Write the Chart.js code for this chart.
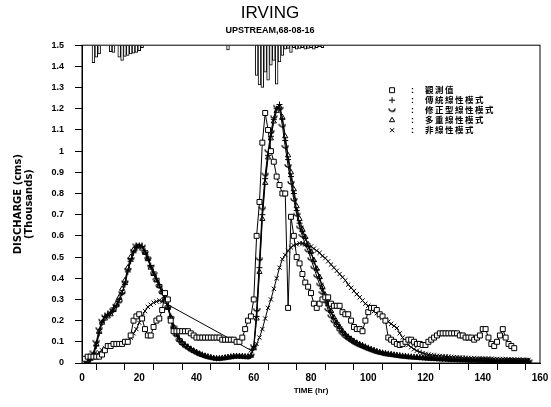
<!DOCTYPE html>
<html>
<head>
<meta charset="utf-8">
<script src="https://cdn.jsdelivr.net/npm/chart.js@4.4.0/dist/chart.umd.min.js"></script>
<style>
  html, body { margin: 0; padding: 0; background: #fff; }
  canvas { display: block; }
</style>
</head>
<body>
<canvas id="hydrograph" width="551" height="407"></canvas>
<script>
// time grid (hr), one value per hour
const hours = Array.from({ length: 157 }, (_, i) => i);

const seriesNames = ["觀測值", "傳統線性模式", "修正型線性模式", "多重線性模式", "非線性模式"];

// discharge, thousands cms
const observed = [
  0.00, 0.02, 0.03, 0.03, 0.03, 0.03, 0.03, 0.04, 0.06, 0.08,
  0.08, 0.09, 0.09, 0.09, 0.09, 0.10, 0.10, 0.13, 0.20, 0.22,
  0.23, 0.21, 0.16, 0.13, 0.13, 0.17, 0.20, 0.21, 0.25, 0.33,
  0.30, 0.20, 0.15, 0.15, 0.15, 0.15, 0.15, 0.15, 0.14, 0.13,
  0.12, 0.12, 0.12, 0.12, 0.12, 0.12, 0.12, 0.12, 0.12, 0.11,
  0.11, 0.11, 0.11, 0.11, 0.10, 0.10, 0.12, 0.16, 0.20, 0.22,
  0.30, 0.60, 0.76, 1.04, 1.18, 1.10, 1.00, 0.95, 0.88, 0.84,
  0.80, 0.80, 0.26, 0.69, 0.60, 0.50, 0.47, 0.42, 0.38, 0.36,
  0.33, 0.28, 0.26, 0.28, 0.30, 0.31, 0.31, 0.28, 0.27, 0.27,
  0.27, 0.24, 0.23, 0.23, 0.20, 0.17, 0.16, 0.16, 0.15, 0.20,
  0.24, 0.26, 0.26, 0.25, 0.23, 0.22, 0.20, 0.12, 0.11, 0.10,
  0.09, 0.085, 0.09, 0.10, 0.11, 0.11, 0.10, 0.09, 0.09, 0.085,
  0.085, 0.10, 0.11, 0.12, 0.13, 0.14, 0.14, 0.14, 0.14, 0.14,
  0.14, 0.14, 0.13, 0.13, 0.12, 0.12, 0.12, 0.11, 0.12, 0.13,
  0.16, 0.16, 0.12, 0.09, 0.08, 0.10, 0.13, 0.16, 0.12, 0.09,
  0.08, 0.07, null, null, null, null, null
];

const linearModel = [
  0.00, 0.00, 0.01, 0.02, 0.04, 0.08, 0.14, 0.19, 0.22, 0.23,
  0.24, 0.26, 0.27, 0.30, 0.33, 0.37, 0.43, 0.48, 0.52, 0.545,
  0.555, 0.55, 0.53, 0.50, 0.46, 0.43, 0.40, 0.37, 0.34, 0.31,
  0.27, 0.22, 0.175, 0.14, 0.115, 0.10, 0.088, 0.078, 0.068, 0.06,
  0.052, 0.045, 0.04, 0.035, 0.031, 0.027, 0.024, 0.022, 0.022, 0.024,
  0.026, 0.028, 0.03, 0.032, 0.033, 0.033, 0.032, 0.031, 0.03, 0.036,
  0.07, 0.22, 0.45, 0.70, 0.87, 0.98, 1.07, 1.15, 1.20, 1.22,
  1.15, 1.05, 0.96, 0.88, 0.80, 0.72, 0.66, 0.62, 0.59, 0.55,
  0.52, 0.48, 0.44, 0.40, 0.35, 0.31, 0.27, 0.24, 0.21, 0.19,
  0.17, 0.15, 0.135, 0.125, 0.115, 0.105, 0.097, 0.09, 0.085, 0.078,
  0.072, 0.066, 0.061, 0.056, 0.052, 0.049, 0.046, 0.044, 0.042, 0.04,
  0.038, 0.036, 0.034, 0.033, 0.031, 0.03, 0.029, 0.028, 0.027, 0.026,
  0.025, 0.024, 0.023, 0.022, 0.021, 0.02, 0.019, 0.019, 0.018, 0.017,
  0.017, 0.016, 0.016, 0.015, 0.015, 0.014, 0.014, 0.013, 0.013, 0.013,
  0.012, 0.012, 0.012, 0.011, 0.011, 0.011, 0.01, 0.01, 0.01, 0.01,
  0.01, 0.01, 0.009, 0.009, 0.009, 0.009, 0.009
];

const modifiedModel = [
  0.00, 0.00, 0.01, 0.03, 0.05, 0.10, 0.16, 0.20, 0.22, 0.23,
  0.24, 0.25, 0.27, 0.29, 0.33, 0.38, 0.44, 0.49, 0.53, 0.555,
  0.56, 0.55, 0.52, 0.49, 0.455, 0.42, 0.39, 0.36, 0.33, 0.30,
  0.26, 0.21, 0.165, 0.13, 0.105, 0.09, 0.079, 0.07, 0.061, 0.054,
  0.047, 0.041, 0.036, 0.031, 0.027, 0.024, 0.021, 0.019, 0.019, 0.021,
  0.023, 0.025, 0.027, 0.029, 0.03, 0.03, 0.029, 0.028, 0.027, 0.036,
  0.08, 0.25, 0.49, 0.73, 0.89, 1.00, 1.09, 1.16, 1.21, 1.20,
  1.12, 1.02, 0.93, 0.85, 0.77, 0.70, 0.64, 0.60, 0.56, 0.53,
  0.49, 0.45, 0.41, 0.37, 0.33, 0.29, 0.25, 0.22, 0.195, 0.175,
  0.155, 0.138, 0.124, 0.113, 0.104, 0.095, 0.088, 0.082, 0.076, 0.07,
  0.065, 0.06, 0.055, 0.051, 0.047, 0.044, 0.041, 0.039, 0.037, 0.035,
  0.033, 0.031, 0.03, 0.028, 0.027, 0.026, 0.025, 0.024, 0.023, 0.022,
  0.021, 0.02, 0.019, 0.019, 0.018, 0.017, 0.017, 0.016, 0.015, 0.015,
  0.014, 0.014, 0.013, 0.013, 0.013, 0.012, 0.012, 0.012, 0.011, 0.011,
  0.011, 0.01, 0.01, 0.01, 0.01, 0.009, 0.009, 0.009, 0.009, 0.009,
  0.008, 0.008, 0.008, 0.008, 0.008, 0.008, 0.008
];

const multiModel = [
  0.00, 0.00, 0.01, 0.02, 0.04, 0.09, 0.15, 0.19, 0.21, 0.22,
  0.23, 0.25, 0.28, 0.31, 0.35, 0.39, 0.45, 0.50, 0.535, 0.55,
  0.55, 0.54, 0.52, 0.49, 0.45, 0.42, 0.39, 0.365, 0.335, 0.30,
  0.26, 0.215, 0.17, 0.135, 0.11, 0.095, 0.083, 0.074, 0.065, 0.057,
  0.05, 0.043, 0.038, 0.033, 0.029, 0.026, 0.023, 0.021, 0.021, 0.023,
  0.025, 0.027, 0.029, 0.031, 0.032, 0.032, 0.031, 0.03, 0.029, 0.034,
  0.07, 0.21, 0.43, 0.68, 0.85, 0.97, 1.06, 1.14, 1.19, 1.21,
  1.16, 1.07, 0.98, 0.90, 0.82, 0.74, 0.68, 0.63, 0.595, 0.56,
  0.525, 0.485, 0.445, 0.405, 0.36, 0.32, 0.28, 0.245, 0.215, 0.19,
  0.17, 0.15, 0.135, 0.122, 0.112, 0.102, 0.094, 0.087, 0.081, 0.075,
  0.069, 0.064, 0.059, 0.054, 0.05, 0.047, 0.044, 0.042, 0.04, 0.038,
  0.036, 0.034, 0.032, 0.031, 0.029, 0.028, 0.027, 0.026, 0.025, 0.024,
  0.023, 0.022, 0.021, 0.02, 0.02, 0.019, 0.018, 0.018, 0.017, 0.016,
  0.016, 0.015, 0.015, 0.014, 0.014, 0.013, 0.013, 0.013, 0.012, 0.012,
  0.012, 0.011, 0.011, 0.011, 0.01, 0.01, 0.01, 0.01, 0.01, 0.009,
  0.009, 0.009, 0.009, 0.009, 0.009, 0.009, 0.009
];

const nonlinearModel = [
  0.00, 0.01, 0.02, 0.03, 0.03, 0.04, 0.05, 0.06, 0.07, 0.08,
  0.08, 0.085, 0.09, 0.09, 0.09, 0.095, 0.10, 0.12, 0.14, 0.16,
  0.19, 0.22, 0.245, 0.265, 0.275, 0.285, 0.29, 0.295, 0.29, null,
  null, null, null, null, null, null, null, null, null, null,
  null, null, null, null, null, null, null, null, null, null,
  null, null, null, null, null, null, null, null, null, 0.06,
  0.07, 0.09, 0.12, 0.16, 0.21, 0.26, 0.30, 0.35, 0.40, 0.45,
  0.49, 0.51, 0.53, 0.545, 0.555, 0.56, 0.565, 0.565, 0.56, 0.555,
  0.55, 0.54, 0.53, 0.52, 0.505, 0.495, 0.48, 0.465, 0.45, 0.435,
  0.42, 0.405, 0.39, 0.37, 0.355, 0.34, 0.325, 0.31, 0.295, 0.28,
  0.27, 0.255, 0.245, 0.235, 0.225, 0.215, 0.205, 0.195, 0.185, 0.175,
  0.165, 0.14, 0.12, 0.10, 0.085, 0.075, 0.065, 0.058, 0.052, 0.047,
  0.043, 0.04, 0.038, 0.036, 0.034, 0.033, 0.032, 0.031, 0.03, 0.029,
  0.028, 0.027, 0.026, 0.025, 0.025, 0.024, 0.023, 0.023, 0.022, 0.022,
  0.021, 0.021, 0.02, 0.02, 0.019, 0.019, 0.018, 0.018, 0.018, 0.017,
  0.017, 0.017, 0.016, 0.016, 0.016, 0.015, 0.015
];

// hyetograph hanging from the top frame
const rainHours = [4, 5, 6, 10, 11, 13, 14, 15, 16, 17, 18, 19, 20, 21, 51,
  61, 62, 63, 64, 65, 66, 67, 68, 69, 70, 71, 72, 73, 74, 75, 76, 77, 78, 79, 80, 81, 82, 83, 84];
const rainDepth = [2.2, 1.5, 1.1, 0.8, 0.9, 1.5, 1.9, 1.4, 1.3, 1.1, 1.0, 0.9, 0.7, 0.3, 0.6,
  3.8, 5.0, 5.3, 3.4, 4.4, 2.5, 1.9, 4.9, 2.1, 1.3, 0.5, 0.4, 0.9, 0.3, 0.5, 0.4, 0.3, 0.5, 0.4, 0.3, 0.5, 0.3, 0.2, 0.3];

// little "cup" marker for the modified linear model
function cupMarker() {
  const c = document.createElement("canvas");
  c.width = 8;
  c.height = 6;
  const g = c.getContext("2d");
  g.strokeStyle = "#000";
  g.lineWidth = 1.3;
  g.beginPath();
  g.arc(4, 1.2, 3, 0, Math.PI);
  g.stroke();
  return c;
}

function lineSet(label, values, pointStyle, radius) {
  return {
    type: "line",
    label: label,
    data: hours.map((h, i) => ({ x: h, y: values[i] })),
    borderColor: "#000",
    borderWidth: 1,
    pointStyle: pointStyle,
    pointRadius: radius,
    pointBorderColor: "#000",
    pointBackgroundColor: "#fff",
    pointBorderWidth: 1,
    tension: 0,
    spanGaps: true,
  };
}

const framePlugin = {
  id: "frame",
  afterDatasetsDraw(chart) {
    const { ctx, chartArea: a } = chart;
    ctx.save();
    ctx.strokeStyle = "#000";
    ctx.lineWidth = 1;
    ctx.strokeRect(a.left, a.top, a.right - a.left, a.bottom - a.top);
    ctx.restore();
  },
};

// legend sits inside the plot, upper right
const legendPlugin = {
  id: "innerLegend",
  afterDraw(chart) {
    const { ctx, chartArea: a } = chart;
    const x0 = a.left + (a.right - a.left) * 0.677;
    let y = a.top + 45;
    ctx.save();
    ctx.textBaseline = "middle";
    chart.data.datasets.forEach((ds) => {
      if (ds.type !== "line") return;
      ctx.strokeStyle = "#000";
      ctx.fillStyle = "#fff";
      ctx.lineWidth = 1;
      Chart.helpers.drawPoint(ctx, { pointStyle: ds.pointStyle, radius: ds.pointRadius, rotation: 0, borderWidth: 1 }, x0, y);
      ctx.fillStyle = "#000";
      ctx.font = "bold 9px 'Liberation Sans'";
      ctx.fillText(":", x0 + 19, y);
      ctx.font = "bold 8.5px 'Noto Sans CJK TC'";
      ctx.letterSpacing = "1.5px";
      ctx.fillText(ds.label, x0 + 33, y);
      ctx.letterSpacing = "0px";
      y += 10;
    });
    ctx.restore();
  },
};

Chart.defaults.font.family = "'Liberation Sans', Arial, sans-serif";
Chart.defaults.color = "#000";

new Chart(document.getElementById("hydrograph"), {
  type: "line",
  data: {
    datasets: [
      {
        type: "bar",
        label: "雨量",
        data: rainHours.map((h, i) => ({ x: h, y: rainDepth[i] })),
        yAxisID: "yRain",
        backgroundColor: "#fff",
        borderColor: "#000",
        borderWidth: 1,
        barThickness: 2.8,
      },
      lineSet(seriesNames[0], observed, "rect", 3.5),
      lineSet(seriesNames[1], linearModel, "cross", 3),
      lineSet(seriesNames[2], modifiedModel, cupMarker(), 3),
      lineSet(seriesNames[3], multiModel, "triangle", 3),
      lineSet(seriesNames[4], nonlinearModel, "crossRot", 3),
    ],
  },
  options: {
    responsive: false,
    devicePixelRatio: 1,
    animation: false,
    layout: { padding: { left: 0, right: 11, top: 0, bottom: 0 } },
    plugins: {
      legend: { display: false },
      tooltip: { enabled: false },
      title: {
        display: true,
        text: "IRVING",
        font: { size: 17, weight: "normal" },
        padding: { top: 3, bottom: 0 },
      },
      subtitle: {
        display: true,
        text: "UPSTREAM,68-08-16",
        font: { size: 9, weight: "bold" },
        padding: { top: 2, bottom: 9 },
      },
    },
    scales: {
      x: {
        type: "linear",
        min: 0,
        max: 160,
        offset: false,
        afterFit(scale) { scale.height = 44; },
        ticks: {
          stepSize: 10,
          maxTicksLimit: 20,
          autoSkip: false,
          maxRotation: 0,
          padding: 2,
          font: { size: 10, weight: "bold" },
          callback: (v) => (v % 20 === 0 ? String(v) : ""),
        },
        grid: { drawOnChartArea: false, color: "#000", tickLength: 7 },
        border: { color: "#000", width: 1 },
        title: {
          display: true,
          text: "TIME (hr)",
          font: { size: 8, weight: "bold" },
          padding: { top: 0, bottom: 11 },
        },
      },
      y: {
        min: 0,
        max: 1.5,
        afterFit(scale) { scale.width = 82; },
        ticks: {
          stepSize: 0.1,
          maxTicksLimit: 20,
          autoSkip: false,
          padding: 11,
          font: { size: 9, weight: "bold" },
          callback: (v) => String(Math.round(v * 10) / 10),
        },
        grid: { drawOnChartArea: false, color: "#000", tickLength: 7 },
        border: { color: "#000", width: 1 },
        title: {
          display: true,
          text: ["DISCHARGE (cms)", "(Thousands)"],
          font: { size: 10, weight: "bold", family: "'DejaVu Sans'", lineHeight: 1.1 },
          padding: { top: 13, bottom: 0 },
        },
      },
      yRain: {
        position: "right",
        display: false,
        reverse: true,
        min: 0,
        max: 40,
      },
    },
  },
  plugins: [framePlugin, legendPlugin],
});
</script>
</body>
</html>
